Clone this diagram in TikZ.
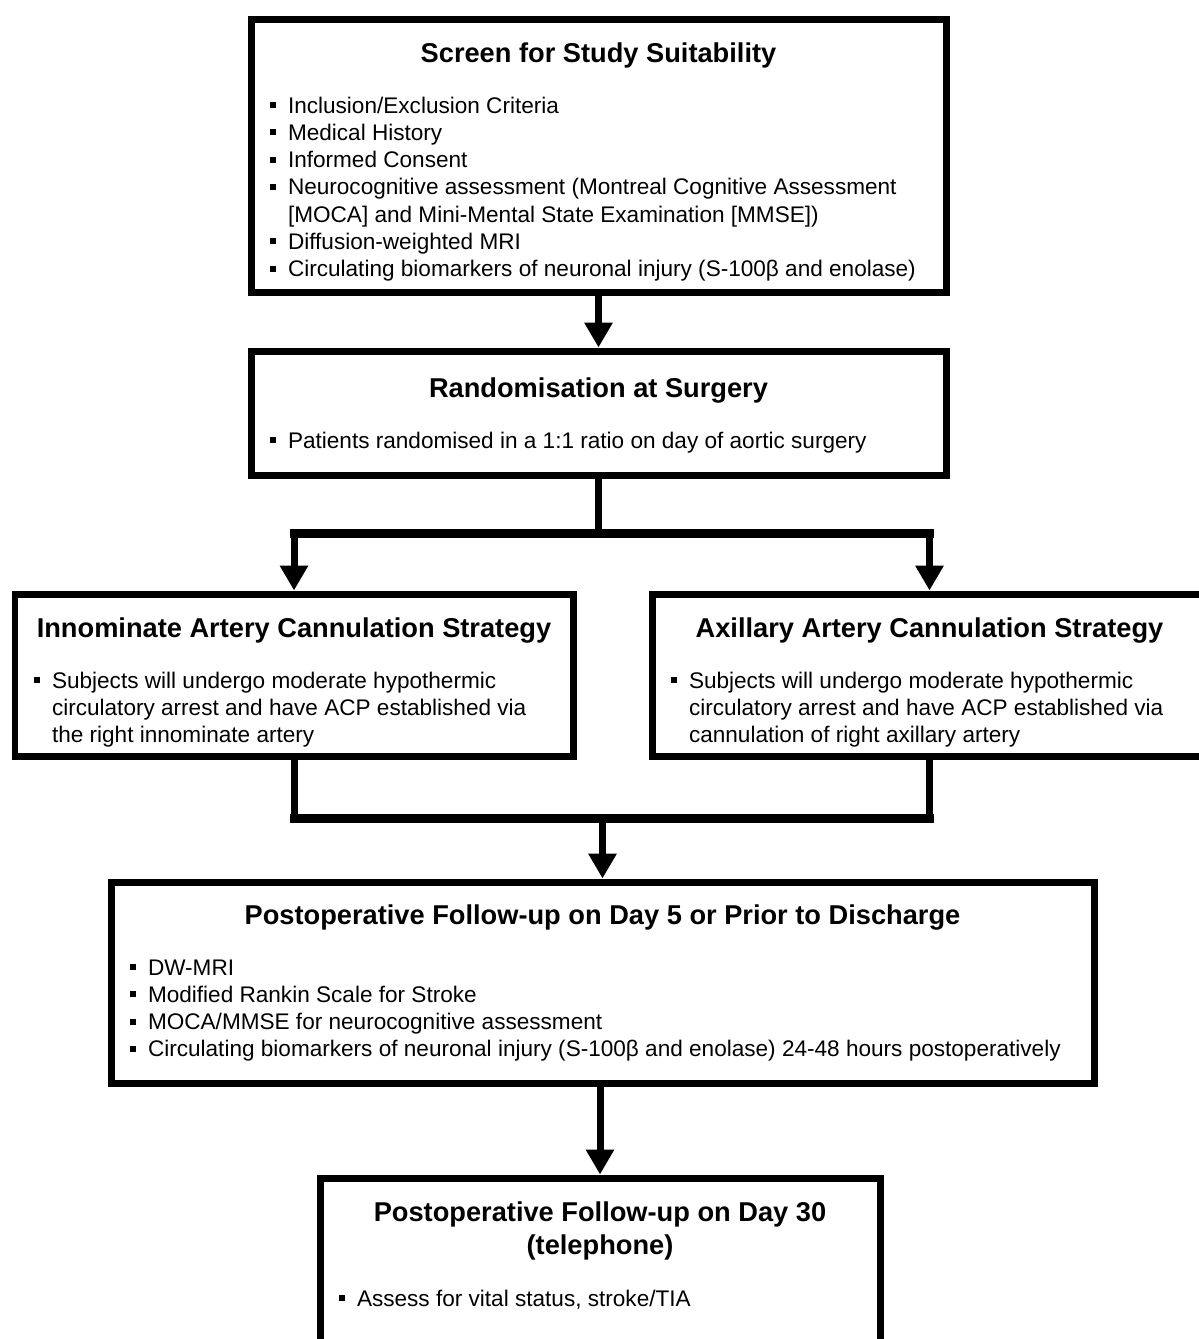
\documentclass[tikz,border=0pt]{standalone}
\usepackage{fontspec}
\setmainfont{Liberation Sans}
\usetikzlibrary{arrows.meta}

\newlength\px
\setlength\px{0.02cm}
\newcommand\bodyfont{\fontsize{12.85pt}{15.5pt}\selectfont}
\newcommand\titlefont{\fontsize{15.5pt}{19.3pt}\selectfont\bfseries}
% one bullet line with hanging indent
\newcommand\bitem[1]{\par\noindent\hangindent=37\px\hangafter=1
  \makebox[37\px][l]{\hspace{19\px}\rule[5\px]{6\px}{6\px}}#1}
% box contents: width, height, title baseline, title, items
\newcommand\stagebody[5]{%
  \parbox[c][#2\px][t]{#1\px}{\bodyfont\raggedright
    {\centering\titlefont\rule{0pt}{#3\px}#4\par}%
    \vspace{24\px}#5}}

\begin{document}
\begin{tikzpicture}[x=0.02cm, y=-0.02cm,
  stage/.style={draw, line width=0.14cm, inner sep=0pt, anchor=center},
  link/.style={line width=0.14cm},
  flow/.style={link, -{Triangle[length=0.5cm, width=0.54cm]}},
  bar/.style={line width=0.18cm, line cap=rect}]
  \useasboundingbox (0,0) rectangle (1198,1339);

  \node[stage] (screen) at (598.5,155.5) {\stagebody{695}{273}{43}{Screen for Study Suitability}{%
    \bitem{Inclusion/Exclusion Criteria}
    \bitem{Medical History}
    \bitem{Informed Consent}
    \bitem{Neurocognitive assessment (Montreal Cognitive Assessment\newline[MOCA] and Mini-Mental State Examination [MMSE])}
    \bitem{Diffusion-weighted MRI}
    \bitem{Circulating biomarkers of neuronal injury (S-100β and enolase)}}};

  \node[stage] (random) at (598.5,413) {\stagebody{695}{124}{46}{Randomisation at Surgery}{%
    \bitem{Patients randomised in a 1:1 ratio on day of aortic surgery}}};

  \node[stage] (innominate) at (294,675) {\stagebody{558}{162}{43}{Innominate Artery Cannulation Strategy}{%
    \bitem{Subjects will undergo moderate hypothermic\newline circulatory arrest and have ACP established via\newline the right innominate artery}}};

  \node[stage] (axillary) at (929.5,675) {\stagebody{555}{162}{43}{Axillary Artery Cannulation Strategy}{%
    \bitem{Subjects will undergo moderate hypothermic\newline circulatory arrest and have ACP established via\newline cannulation of right axillary artery}}};

  \node[stage] (followup) at (602.5,982.5) {\stagebody{983}{201}{42}{Postoperative Follow-up on Day 5 or Prior to Discharge}{%
    \bitem{DW-MRI}
    \bitem{Modified Rankin Scale for Stroke}
    \bitem{MOCA/MMSE for neurocognitive assessment}
    \bitem{Circulating biomarkers of neuronal injury (S-100β and enolase) 24-48 hours postoperatively}}};

  \node[stage] (phone) at (600,1270) {\stagebody{560}{184}{43}{Postoperative Follow-up on Day 30\\(telephone)}{%
    \bitem{Assess for vital status, stroke/TIA}}};

  % connectors
  \draw[flow] (screen) -- (random);
  \coordinate (fork) at (random.south |- 0,533);
  \draw[link] (random.south) -- (fork);
  \draw[bar] (innominate.north |- fork) -- (axillary.north |- fork);
  \draw[flow] (innominate.north |- fork) -- (innominate.north);
  \draw[flow] (axillary.north |- fork) -- (axillary.north);

  \coordinate (join) at (followup.north |- 0,818);
  \draw[link] (innominate.south) -- (innominate.south |- join);
  \draw[link] (axillary.south) -- (axillary.south |- join);
  \draw[bar] (innominate.south |- join) -- (axillary.south |- join);
  \draw[flow] (join) -- (followup.north);
  \draw[flow] (phone.north |- followup.south) -- (phone.north);
\end{tikzpicture}
\end{document}
